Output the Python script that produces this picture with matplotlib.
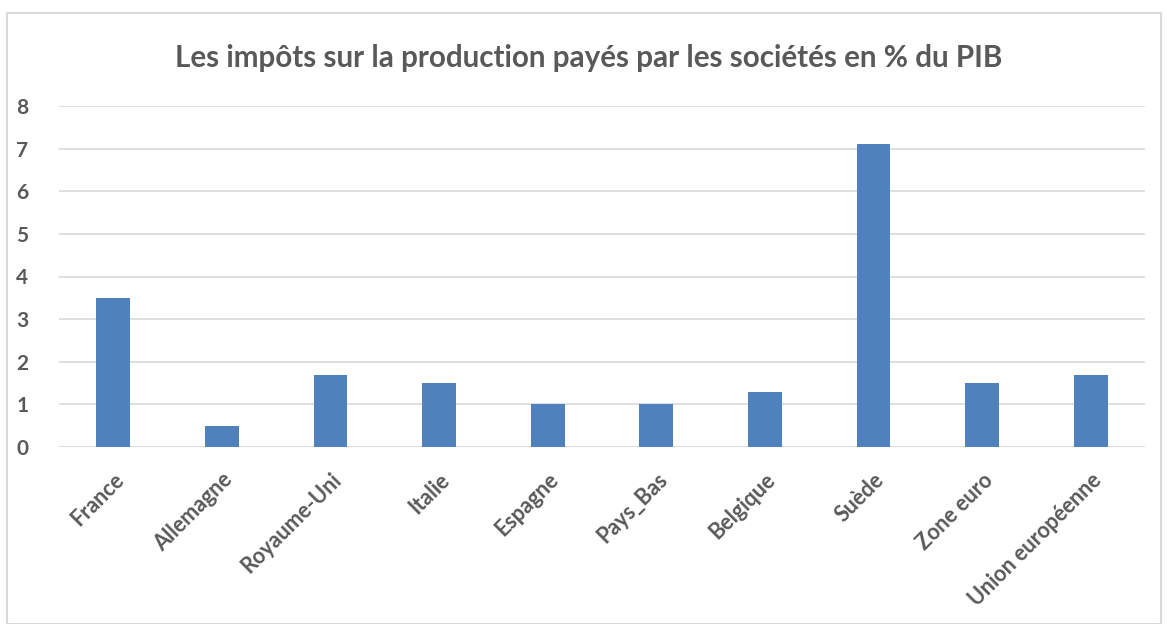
import numpy as np
import matplotlib.pyplot as plt
from matplotlib.patches import Rectangle

pays = ['France', 'Allemagne', 'Royaume-Uni', 'Italie', 'Espagne', 'Pays_Bas',
        'Belgique', 'Suède', 'Zone euro', 'Union européenne']
impots = [3.5, 0.5, 1.7, 1.5, 1.0, 1.0, 1.3, 7.1, 1.5, 1.7]

gris = '#595959'
plt.rcParams['font.family'] = ['Lato', 'DejaVu Sans']

W, H = 1167, 624
fig = plt.figure(figsize=(W / 100, H / 100), dpi=100)
fig.patches.append(Rectangle((7 / W, 0), (1161 - 7) / W, 1 - 13 / H, transform=fig.transFigure,
                             fill=False, edgecolor='#D9D9D9', linewidth=1.5))

ax = fig.add_axes([59 / W, 1 - 447 / H, (1145 - 59) / W, (447 - 106) / H])
x = np.arange(len(pays))
ax.bar(x, impots, width=0.31, color='#4F81BD', zorder=3)
ax.set_xlim(-0.5, len(pays) - 0.5)
ax.set_ylim(0, 8)
ax.set_yticks(range(0, 9))
ax.grid(axis='y', color='#D9D9D9', linewidth=1.2, zorder=0)
for s in ax.spines.values():
    s.set_visible(False)
ax.tick_params(length=0)
ax.tick_params(axis='y', pad=22, labelsize=15, labelcolor=gris)
for lab in ax.get_yticklabels():
    lab.set_fontweight('bold')
ax.set_xticks(x)
ax.set_xticklabels(pays, rotation=45, ha='right', va='top', rotation_mode='anchor',
                   fontsize=15.5, fontweight='bold', color=gris)
ax.tick_params(axis='x', pad=16)

fig.text(589 / W, 1 - 58 / H, 'Les impôts sur la production payés par les sociétés en % du PIB',
         ha='center', va='center', fontsize=21.3, fontweight='bold', color=gris)

fig.savefig('out.png', dpi=100)
